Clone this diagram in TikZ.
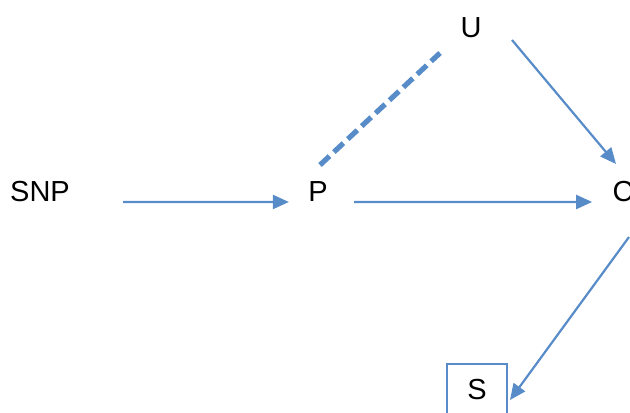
\documentclass[tikz,border=0pt]{standalone}
\usepackage{fontspec}
\setmainfont{Liberation Sans}
\usetikzlibrary{arrows.meta,calc}
\definecolor{edgeblue}{RGB}{88,140,200}

\begin{document}
\begin{tikzpicture}[x=0.5pt, y=-0.5pt, >={Triangle[length=8pt,width=7pt]},
  every node/.style={inner sep=0pt, font=\fontsize{14.5}{17}\selectfont},
  link/.style={->, edgeblue, line width=1.1pt},
  confound/.style={edgeblue, line width=2.6pt, dash pattern=on 6.5pt off 3pt}]
  \useasboundingbox (0,0) rectangle (630,412);
  \clip (0,0) rectangle (630,412);
  \node (snp) at (40,192) {SNP};
  \node (p) at (318,192) {P};
  \node (c) at (623,192) {C};
  \node (u) at (471,28) {U};
  \node (s) [draw=edgeblue, line width=1pt, minimum width=30pt, minimum height=26pt] at (477,390) {S};
  \draw[link, shorten <=26.5pt, shorten >=9.5pt] (snp.base east) -- (p.base west);
  \draw[link, shorten <=13pt, shorten >=10pt] (p.base east) -- (c.base west);
  \draw[link] ($(u)+(41,12)$) -- ($(c)+(-7,-28)$);
  \draw[link] ($(c)+(6,45)$) -- ($(s)+(33,10)$);
  \draw[confound] ($(p)+(2,-27)$) -- ($(u)+(-31,25)$);
\end{tikzpicture}
\end{document}
